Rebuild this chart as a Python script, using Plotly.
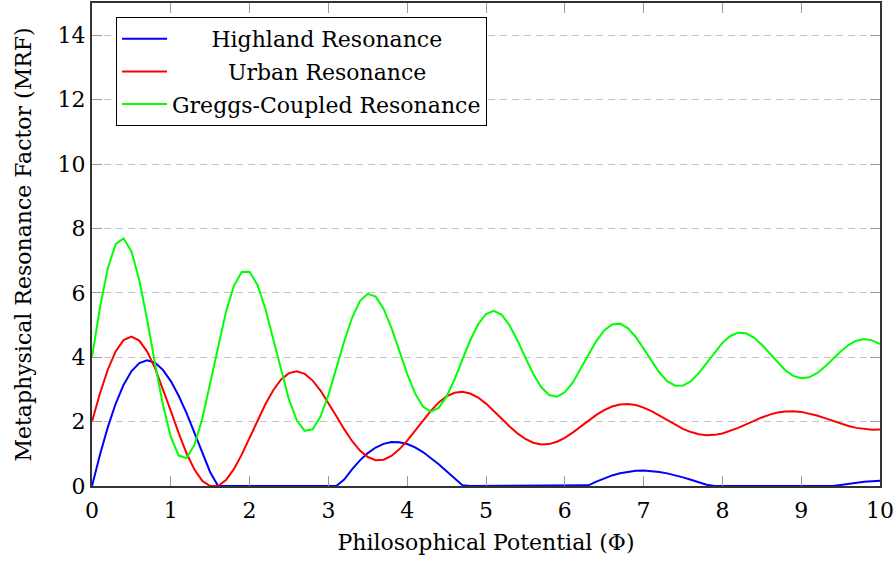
import plotly.graph_objects as go

# x samples (Philosophical Potential, Φ) read at step 0.1 from 0 to 10
x_vals = [round(i * 0.1, 1) for i in range(101)]

highland = [
    0.000, 0.961, 1.821, 2.554, 3.139, 3.562, 3.815, 3.902, 3.828, 3.607,
    3.258, 2.801, 2.264, 1.671, 1.050, 0.428, 0.000, 0.000, 0.000, 0.000,
    0.000, 0.000, 0.000, 0.000, 0.000, 0.000, 0.000, 0.000, 0.000, 0.000,
    0.000, 0.000, 0.200, 0.518, 0.796, 1.023, 1.195, 1.309, 1.364, 1.361,
    1.304, 1.199, 1.054, 0.876, 0.675, 0.460, 0.241, 0.026, 0.000, 0.000,
    0.000, 0.000, 0.000, 0.000, 0.000, 0.000, 0.000, 0.000, 0.000, 0.000,
    0.000, 0.000, 0.000, 0.021, 0.137, 0.241, 0.328, 0.397, 0.445, 0.473,
    0.480, 0.468, 0.438, 0.392, 0.335, 0.267, 0.193, 0.116, 0.040, 0.000,
    0.000, 0.000, 0.000, 0.000, 0.000, 0.000, 0.000, 0.000, 0.000, 0.000,
    0.000, 0.000, 0.000, 0.000, 0.000, 0.032, 0.070, 0.103, 0.130, 0.150,
    0.163,
]

urban = [
    2.000, 2.865, 3.611, 4.180, 4.530, 4.641, 4.514, 4.174, 3.659, 3.024,
    2.330, 1.641, 1.017, 0.509, 0.157, 0.000, 0.000, 0.184, 0.522, 0.973,
    1.492, 2.030, 2.539, 2.976, 3.307, 3.506, 3.564, 3.482, 3.273, 2.963,
    2.584, 2.172, 1.765, 1.399, 1.102, 0.900, 0.803, 0.817, 0.934, 1.138,
    1.408, 1.717, 2.035, 2.335, 2.591, 2.783, 2.896, 2.926, 2.873, 2.746,
    2.559, 2.333, 2.088, 1.848, 1.633, 1.460, 1.343, 1.290, 1.301, 1.374,
    1.497, 1.659, 1.843, 2.031, 2.208, 2.358, 2.469, 2.533, 2.548, 2.514,
    2.436, 2.324, 2.189, 2.044, 1.902, 1.776, 1.675, 1.608, 1.579, 1.588,
    1.632, 1.707, 1.804, 1.913, 2.025, 2.129, 2.216, 2.281, 2.317, 2.324,
    2.302, 2.255, 2.188, 2.107, 2.021, 1.938, 1.863, 1.805, 1.766, 1.750,
    1.757,
]

greggs = [
    4.000, 5.527, 6.757, 7.511, 7.691, 7.291, 6.396, 5.165, 3.801, 2.522,
    1.522, 0.945, 0.866, 1.275, 2.091, 3.172, 4.338, 5.407, 6.215, 6.648,
    6.653, 6.246, 5.507, 4.563, 3.569, 2.680, 2.031, 1.714, 1.763, 2.157,
    2.822, 3.644, 4.488, 5.224, 5.742, 5.968, 5.880, 5.505, 4.910, 4.198,
    3.483, 2.876, 2.467, 2.312, 2.426, 2.779, 3.307, 3.923, 4.526, 5.024,
    5.343, 5.442, 5.314, 4.986, 4.518, 3.988, 3.481, 3.074, 2.827, 2.772,
    2.909, 3.210, 3.622, 4.076, 4.501, 4.831, 5.019, 5.042, 4.903, 4.628,
    4.267, 3.879, 3.524, 3.258, 3.117, 3.118, 3.256, 3.505, 3.820, 4.151,
    4.445, 4.659, 4.762, 4.743, 4.610, 4.387, 4.112, 3.831, 3.588, 3.418,
    3.344, 3.376, 3.503, 3.702, 3.940, 4.177, 4.378, 4.512, 4.562, 4.523,
    4.403,
]

series_names = ["Highland Resonance", "Urban Resonance", "Greggs-Coupled Resonance"]
series_colors = ["#0000ff", "#ff0000", "#00ff00"]
# leading spaces that centre the shorter legend texts
series_pad = ["\u00a0" * 5 + "\u2009", "\u00a0" * 8, ""]

x_ticks = list(range(0, 11))
y_ticks = list(range(0, 15, 2))

FONT = "DejaVu Serif"
FS = 22

fig = go.Figure()
for name, ys, col, pad in zip(series_names, [highland, urban, greggs], series_colors, series_pad):
    fig.add_trace(go.Scatter(
        x=x_vals, y=ys, mode="lines", name=pad + name,
        legendgroup=name,
        line=dict(color=col, width=2),
    ))

fig.update_layout(
    width=895, height=563,
    margin=dict(l=92, r=15, t=1, b=77),
    paper_bgcolor="white", plot_bgcolor="white",
    font=dict(family=FONT, size=FS, color="black"),
    showlegend=True,
    legend=dict(
        x=0.0305, y=0.971, xanchor="left", yanchor="top",
        bgcolor="white", bordercolor="black", borderwidth=1,
        font=dict(family=FONT, size=FS),
        traceorder="grouped", tracegroupgap=1,
        itemwidth=45,
    ),
)

fig.update_xaxes(
    range=[0, 10], tickvals=x_ticks, ticktext=[str(v) for v in x_ticks],
    showline=True, linecolor="#333333", linewidth=2, mirror="allticks",
    ticks="inside", ticklen=10, tickcolor="#9a9a9a", tickwidth=1,
    showgrid=False, zeroline=False, layer="above traces",
    ticklabelstandoff=4,
    title=dict(text="Philosophical Potential (Φ)", standoff=12,
               font=dict(family=FONT, size=FS)),
)
fig.update_yaxes(
    range=[0, 15], tickvals=y_ticks, ticktext=[str(v) for v in y_ticks],
    showline=True, linecolor="#333333", linewidth=2, mirror="allticks",
    ticks="inside", ticklen=10, tickcolor="#9a9a9a", tickwidth=1,
    showgrid=True, gridcolor="#c4c4c4", gridwidth=1, griddash="7px,5px",
    zeroline=False, layer="above traces",
    ticklabelstandoff=0,
    title=dict(text="Metaphysical Resonance Factor (MRF)", standoff=20,
               font=dict(family=FONT, size=FS)),
)

fig.write_html("out.html")
